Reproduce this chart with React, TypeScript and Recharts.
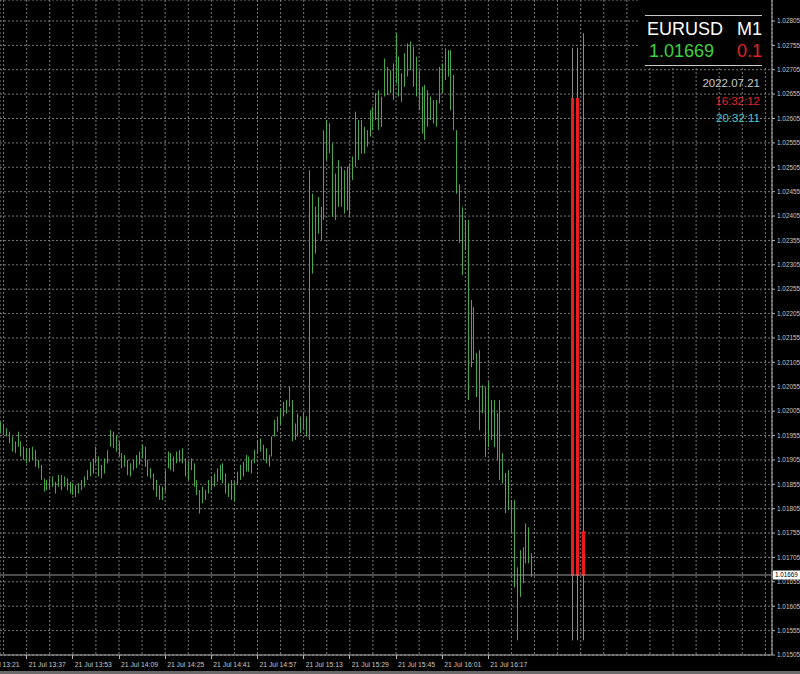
import { ComposedChart, Bar, XAxis, YAxis, CartesianGrid, ReferenceLine } from "recharts";

const W = 800;
const H = 674;
const FONT = "'Liberation Sans', Arial, sans-serif";
const AXIS = "#b4b4b4";
const TEXT = "#c8c8c8";

// one bar per minute, 21 Jul 13:28 is index 0, 16:32 is index 184
const highs = [
  1.01984, 1.01977, 1.0197, 1.01963, 1.01953, 1.01943, 1.01963, 1.01943, 1.01932, 1.01929,
  1.01929, 1.01932, 1.01925, 1.01905, 1.01895, 1.01867, 1.01864, 1.01867, 1.01871, 1.0186,
  1.01874, 1.01874, 1.01871, 1.01867, 1.0186, 1.01857, 1.01853, 1.01857, 1.01864, 1.01871,
  1.01884, 1.01901, 1.01908, 1.01932, 1.01912, 1.01895, 1.01908, 1.01925, 1.01966, 1.01963,
  1.01956, 1.01943, 1.01919, 1.01915, 1.01905, 1.01898, 1.01905, 1.01915, 1.01922, 1.01936,
  1.01932, 1.01905, 1.01888, 1.01877, 1.01864, 1.01853, 1.0185, 1.01884, 1.01922, 1.01919,
  1.01912, 1.01922, 1.01925, 1.01929, 1.01908, 1.01901, 1.01908, 1.01898, 1.01864, 1.01843,
  1.0185, 1.01843, 1.01864, 1.01871, 1.01877, 1.01888, 1.01895, 1.01898, 1.01877, 1.01857,
  1.01864, 1.0186, 1.01881, 1.01895, 1.01901, 1.01915, 1.01912, 1.01905, 1.01925, 1.01946,
  1.01949, 1.01936, 1.01929, 1.01915, 1.01953, 1.01987, 1.01994, 1.02011, 1.02024, 1.02028,
  1.02055, 1.02028, 1.0198, 1.02, 1.01994, 1.02004, 1.01994, 1.02499, 1.02451, 1.02424,
  1.02444, 1.02424, 1.02581, 1.02602, 1.02595, 1.02554, 1.02492, 1.0252, 1.02506, 1.02499,
  1.02506, 1.02513, 1.02527, 1.02619, 1.02602, 1.02602, 1.02588, 1.02581, 1.02622, 1.02629,
  1.02657, 1.02663, 1.0265, 1.02728, 1.02711, 1.02704, 1.02718, 1.0278, 1.02732, 1.02698,
  1.02739, 1.02759, 1.02763, 1.02752, 1.02732, 1.02704, 1.0267, 1.02674, 1.02663, 1.0265,
  1.02643, 1.02643, 1.02711, 1.02718, 1.02749, 1.02745, 1.02745, 1.02694, 1.02581, 1.0247,
  1.02423, 1.02397, 1.02397, 1.02233, 1.02218, 1.02124, 1.0213, 1.02058, 1.02054, 1.02065,
  1.02028, 1.02028, 1.02001, 1.02028, 1.01919, 1.01878, 1.01884, 1.01823, 1.01823, 1.01685,
  1.0172, 1.01726, 1.01775, 1.01767, 1.01714,
];
const lows = [
  1.0196, 1.01956, 1.01953, 1.01939, 1.01922, 1.01919, 1.01932, 1.01912, 1.01905, 1.01898,
  1.01901, 1.01905, 1.01891, 1.01888, 1.01864, 1.0184, 1.01843, 1.01847, 1.0185, 1.01836,
  1.0185, 1.01843, 1.0185, 1.01843, 1.01836, 1.01833, 1.01829, 1.01836, 1.01843, 1.0185,
  1.01864, 1.01871, 1.01877, 1.01898, 1.01871, 1.01867, 1.01877, 1.01898, 1.01932, 1.01929,
  1.01922, 1.01912, 1.01888, 1.01891, 1.01874, 1.01871, 1.01884, 1.01888, 1.01895, 1.01908,
  1.01891, 1.01871, 1.01867, 1.01843, 1.01829, 1.01823, 1.01823, 1.0184, 1.01888, 1.01884,
  1.01881, 1.01898, 1.01901, 1.01898, 1.01871, 1.01864, 1.01884, 1.0185, 1.01833, 1.01795,
  1.01816, 1.01823, 1.01836, 1.01843, 1.0185, 1.0186, 1.01864, 1.01857, 1.01836, 1.01829,
  1.01823, 1.01819, 1.01853, 1.01864, 1.01871, 1.01881, 1.01881, 1.01877, 1.01898, 1.01919,
  1.01922, 1.01905, 1.01898, 1.01891, 1.01912, 1.01953, 1.01963, 1.01977, 1.01994, 1.02,
  1.02014, 1.01943, 1.01946, 1.01953, 1.0196, 1.01966, 1.01953, 1.01946, 1.02287, 1.02328,
  1.02369, 1.02356, 1.02397, 1.0252, 1.02533, 1.02403, 1.02397, 1.02424, 1.02424, 1.0241,
  1.02417, 1.02403, 1.02479, 1.02506, 1.0252, 1.02533, 1.02533, 1.02547, 1.02568, 1.02581,
  1.02602, 1.02581, 1.02588, 1.0265, 1.02653, 1.02657, 1.02643, 1.02677, 1.0265, 1.02639,
  1.0267, 1.02691, 1.02704, 1.0267, 1.0265, 1.02622, 1.02574, 1.02561, 1.02588, 1.02602,
  1.02595, 1.02588, 1.02636, 1.02657, 1.02684, 1.02691, 1.02622, 1.02581, 1.02451, 1.0235,
  1.02284, 1.02335, 1.02028, 1.02095, 1.0211, 1.02034, 1.01966, 1.02001, 1.01911, 1.01931,
  1.01946, 1.01931, 1.01905, 1.01864, 1.01857, 1.01796, 1.01802, 1.01755, 1.01644, 1.01535,
  1.01624, 1.01652, 1.01693, 1.01693, 1.01665,
];

// red blocks right of the last bar (16:46, 16:48, 16:50)
const blockMinutes = [198, 200, 202];
const blockWickHigh = [1.0275, 1.0275, 1.0278];
const blockWickLow = [1.01535, 1.01535, 1.01535];
const blockTop = [1.02647, 1.02647, 1.01759];
const blockBottom = [1.01667, 1.01667, 1.01667];

const lastPrice = 1.01669;

const priceTicks = [
  1.01505, 1.01555, 1.01605, 1.01655, 1.01705, 1.01755, 1.01805, 1.01855, 1.01905,
  1.01955, 1.02005, 1.02055, 1.02105, 1.02155, 1.02205, 1.02255, 1.02305, 1.02355,
  1.02405, 1.02455, 1.02505, 1.02555, 1.02605, 1.02655, 1.02705, 1.02755, 1.02805,
];
const gridMinutes = [
  -7, 1, 9, 17, 25, 33, 41, 49, 57, 65, 73, 81, 89, 97, 105, 113, 121, 129, 137, 145,
  153, 161, 169, 177, 185, 193, 201, 209, 217, 225, 233, 241, 249, 257, 265,
];
const labelMinutes = [-7, 9, 25, 41, 57, 73, 89, 105, 121, 137, 153, 169];
const timeLabels = [
  "21 Jul 13:21", "21 Jul 13:37", "21 Jul 13:53", "21 Jul 14:09", "21 Jul 14:25", "21 Jul 14:41",
  "21 Jul 14:57", "21 Jul 15:13", "21 Jul 15:29", "21 Jul 15:45", "21 Jul 16:01", "21 Jul 16:17",
];

const timeDomain = [-0.24, 267.3];
const priceDomain = [1.01505, 1.02848];

const rows = [
  ...highs.map((h, i) => ({ t: i, bar: [lows[i], h] })),
  ...blockMinutes.map((m, i) => ({
    t: m,
    wick: [blockWickLow[i], blockWickHigh[i]],
    body: [blockBottom[i], blockTop[i]],
  })),
];

const Stick = (p: any) => {
  if (!Number.isFinite(p.y) || !Number.isFinite(p.height) || !Number.isFinite(p.x)) return null;
  const cx = Math.floor(p.x + p.width / 2) + 0.5;
  const top = Math.min(p.y, p.y + p.height);
  const len = Math.max(Math.abs(p.height), 1);
  return <line x1={cx} x2={cx} y1={top} y2={top + len} stroke={p.fill} strokeWidth={1} />;
};

const Block = (p: any) => {
  if (!Number.isFinite(p.y) || !Number.isFinite(p.height) || !Number.isFinite(p.x)) return null;
  const top = Math.min(p.y, p.y + p.height);
  return <rect x={Math.round(p.x)} y={top} width={Math.round(p.width)} height={Math.abs(p.height)} fill={p.fill} />;
};

const TimeTick = (p: any) => {
  const k = labelMinutes.indexOf(p.payload.value);
  if (k < 0) return <g />;
  return (
    <g>
      <line x1={Math.floor(p.x) + 0.5} x2={Math.floor(p.x) + 0.5} y1={p.y - 4} y2={p.y} stroke={AXIS} />
      <text x={p.x + 2} y={p.y + 8} fontSize={6.8} fill={TEXT} fontFamily={FONT}>
        {timeLabels[k]}
      </text>
    </g>
  );
};

const PriceTag = (p: any) => {
  const vb = p.viewBox || {};
  const x = vb.x + vb.width;
  const y = vb.y;
  return (
    <g>
      <rect x={x + 1} y={y - 4.5} width={27} height={9} fill="#ffffff" />
      <text x={x + 3} y={y + 2.3} fontSize={6.3} fill="#000" fontFamily={FONT}>
        {lastPrice.toFixed(5)}
      </text>
    </g>
  );
};

export default function App() {
  return (
    <div style={{ position: "relative", width: W, height: H, background: "#000", overflow: "hidden" }}>
      <style>{"body{margin:0;background:#000}"}</style>
      <ComposedChart width={W} height={H} data={rows} margin={{ top: 0, right: 0, bottom: 0, left: 0 }}>
        <CartesianGrid stroke="#7a7a7a" strokeDasharray="2 2" />
        <XAxis
          dataKey="t"
          type="number"
          domain={timeDomain}
          allowDataOverflow
          ticks={gridMinutes}
          interval={0}
          tick={<TimeTick />}
          tickLine={false}
          tickSize={4}
          tickMargin={0}
          height={19}
          axisLine={{ stroke: AXIS }}
        />
        <XAxis xAxisId="w" dataKey="t" type="number" domain={timeDomain} allowDataOverflow hide />
        <XAxis xAxisId="b" dataKey="t" type="number" domain={timeDomain} allowDataOverflow hide />
        <YAxis
          orientation="right"
          width={28}
          type="number"
          domain={priceDomain}
          allowDataOverflow
          ticks={priceTicks}
          interval={0}
          tickFormatter={(v: number) => v.toFixed(5)}
          tickSize={3}
          tickMargin={2}
          tick={{ fontSize: 6.4, fill: TEXT, fontFamily: FONT }}
          axisLine={{ stroke: AXIS }}
          tickLine={{ stroke: AXIS }}
        />
        <ReferenceLine y={lastPrice} stroke="#9a9a9a" label={<PriceTag />} />
        <Bar dataKey="bar" fill="#46a846" barSize={1} shape={<Stick />} isAnimationActive={false} />
        <Bar xAxisId="w" dataKey="wick" fill="#8c8c8c" barSize={1} shape={<Stick />} isAnimationActive={false} />
        <Bar xAxisId="b" dataKey="body" fill="#ee1b1b" barSize={4} shape={<Block />} isAnimationActive={false} />
      </ComposedChart>
      <svg width={W} height={H} style={{ position: "absolute", left: 0, top: 0, pointerEvents: "none" }}>
        <rect x={640} y={0} width={131} height={66} fill="#000" />
        <line x1={645} x2={762} y1={15.5} y2={15.5} stroke="#c8c8c8" />
        <text x={647} y={35} fontSize={18} fill="#ffffff" fontFamily={FONT}>EURUSD</text>
        <text x={762} y={35} fontSize={18} fill="#ffffff" fontFamily={FONT} textAnchor="end">M1</text>
        <text x={649} y={57} fontSize={18} fill="#3cd23c" fontFamily={FONT}>1.01669</text>
        <text x={762} y={57} fontSize={18} fill="#e52323" fontFamily={FONT} textAnchor="end">0.1</text>
        <line x1={645} x2={762} y1={65.5} y2={65.5} stroke="#c8c8c8" />
        <text x={760} y={87} fontSize={11.5} fill="#c8c8c8" fontFamily={FONT} textAnchor="end">2022.07.21</text>
        <text x={760} y={105} fontSize={11.5} fill="#e3262b" fontFamily={FONT} textAnchor="end">16:32:12</text>
        <text x={760} y={122} fontSize={11.5} fill="#45cccc" fontFamily={FONT} textAnchor="end">20:32:11</text>
        <rect x={0} y={671} width={W} height={3} fill="#6a6a6a" />
      </svg>
    </div>
  );
}
